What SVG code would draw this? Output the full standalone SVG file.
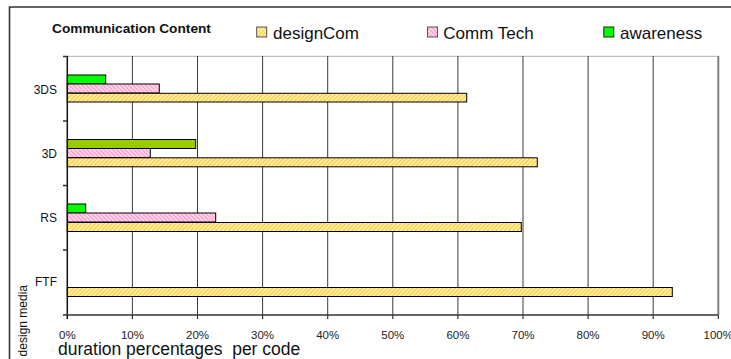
<svg xmlns="http://www.w3.org/2000/svg" width="731" height="359" viewBox="0 0 731 359">
  <style>
    text { font-family: "Liberation Sans", Arial, sans-serif; fill: #111; }
    .title { font-size: 13.7px; font-weight: bold; }
    .legend { font-size: 17px; }
    .cat { font-size: 12px; text-anchor: end; }
    .tick { font-size: 11.5px; text-anchor: middle; fill: #222; }
    .axis-title { font-size: 17.5px; }
    .grid { stroke: #3a3a3a; stroke-width: 1; }
    .bar { stroke: #000; stroke-width: 1; }
    .aware { fill: #00ff00; }
    .aware-3d { fill: #99cc00; }
    .design { fill: url(#hatchYellow); }
    .tech { fill: url(#hatchPink); }
  </style>
  <defs>
    <pattern id="hatchYellow" width="3" height="3" patternUnits="userSpaceOnUse" patternTransform="rotate(45)">
      <rect width="3" height="3" fill="#fff6cc"/>
      <rect width="1.5" height="3" fill="#ffcc33"/>
    </pattern>
    <pattern id="hatchPink" width="3" height="3" patternUnits="userSpaceOnUse" patternTransform="rotate(-45)">
      <rect width="3" height="3" fill="#ffe6f2"/>
      <rect width="1.5" height="3" fill="#ff99cc"/>
    </pattern>
  </defs>

  <rect width="731" height="359" fill="#fff"/>
  <!-- outer chart frame -->
  <path d="M9.5 360 V7 H732" fill="none" stroke="#333" stroke-width="1.6"/>

  <!-- title and legend -->
  <g id="chart-title">
    <text class="title" x="52" y="33.3">Communication Content</text>
  </g>
  <g id="legend-designCom">
    <rect x="256.7" y="27" width="10" height="10" class="design" stroke="#555" stroke-width="1"/>
    <text class="legend" x="273" y="38.5">designCom</text>
  </g>
  <g id="legend-commTech">
    <rect x="427.5" y="27" width="10" height="10" class="tech" stroke="#555" stroke-width="1"/>
    <text class="legend" x="443.3" y="38.5">Comm Tech</text>
  </g>
  <g id="legend-awareness">
    <rect x="603.8" y="27" width="10" height="10" class="aware" stroke="#222" stroke-width="1"/>
    <text class="legend" x="620" y="38.5">awareness</text>
  </g>

  <!-- plot area: gridlines -->
  <g id="gridlines">
    <line x1="67.3" y1="56.3" x2="718.3" y2="56.3" stroke="#b0b0b0" stroke-width="1"/>
    <line class="grid" x1="132.4" y1="56" x2="132.4" y2="315"/>
    <line class="grid" x1="197.5" y1="56" x2="197.5" y2="315"/>
    <line class="grid" x1="262.6" y1="56" x2="262.6" y2="315"/>
    <line class="grid" x1="327.7" y1="56" x2="327.7" y2="315"/>
    <line class="grid" x1="392.8" y1="56" x2="392.8" y2="315"/>
    <line class="grid" x1="457.9" y1="56" x2="457.9" y2="315"/>
    <line class="grid" x1="523" y1="56" x2="523" y2="315"/>
    <line class="grid" x1="588.1" y1="56" x2="588.1" y2="315"/>
    <line class="grid" x1="653.2" y1="56" x2="653.2" y2="315"/>
    <line x1="718.3" y1="56" x2="718.3" y2="315" stroke="#808080" stroke-width="2"/>
  </g>

  <!-- bars -->
  <g id="bars-3DS">
    <rect class="bar aware" x="67.3" y="75" width="38.4" height="9"/>
    <rect class="bar tech" x="67.3" y="84" width="92" height="9"/>
    <rect class="bar design" x="67.3" y="93.3" width="399.4" height="8.7"/>
  </g>
  <g id="bars-3D">
    <rect class="bar aware-3d" x="67.3" y="139.5" width="128.4" height="9"/>
    <rect class="bar tech" x="67.3" y="148.5" width="83" height="9"/>
    <rect class="bar design" x="67.3" y="157.8" width="470" height="9"/>
  </g>
  <g id="bars-RS">
    <rect class="bar aware" x="67.3" y="204" width="18.4" height="9"/>
    <rect class="bar tech" x="67.3" y="213" width="148.4" height="9"/>
    <rect class="bar design" x="67.3" y="222.5" width="454" height="9"/>
  </g>
  <g id="bars-FTF">
    <rect class="bar design" x="67.3" y="287.5" width="605" height="9"/>
  </g>

  <!-- axes -->
  <g id="axes">
    <line x1="67.3" y1="56" x2="67.3" y2="319" stroke="#111" stroke-width="1.5"/>
    <g stroke="#333" stroke-width="1.5">
      <line x1="63" y1="56.5" x2="67.3" y2="56.5"/>
      <line x1="63" y1="121" x2="67.3" y2="121"/>
      <line x1="63" y1="185.5" x2="67.3" y2="185.5"/>
      <line x1="63" y1="250" x2="67.3" y2="250"/>
      <line x1="63" y1="315" x2="718.3" y2="315"/>
    </g>
    <g stroke="#333" stroke-width="1.2">
      <line x1="132.4" y1="315" x2="132.4" y2="319"/>
      <line x1="197.5" y1="315" x2="197.5" y2="319"/>
      <line x1="262.6" y1="315" x2="262.6" y2="319"/>
      <line x1="327.7" y1="315" x2="327.7" y2="319"/>
      <line x1="392.8" y1="315" x2="392.8" y2="319"/>
      <line x1="457.9" y1="315" x2="457.9" y2="319"/>
      <line x1="523" y1="315" x2="523" y2="319"/>
      <line x1="588.1" y1="315" x2="588.1" y2="319"/>
      <line x1="653.2" y1="315" x2="653.2" y2="319"/>
      <line x1="718.3" y1="315" x2="718.3" y2="319"/>
    </g>
  </g>

  <!-- category labels -->
  <g id="category-labels">
    <text class="cat" x="57" y="93.6">3DS</text>
    <text class="cat" x="57" y="157.6">3D</text>
    <text class="cat" x="57" y="221.6">RS</text>
    <text class="cat" x="57" y="286">FTF</text>
  </g>

  <!-- value axis labels -->
  <g id="value-labels">
    <text class="tick" x="67.3" y="338.5">0%</text>
    <text class="tick" x="132.4" y="338.5">10%</text>
    <text class="tick" x="197.5" y="338.5">20%</text>
    <text class="tick" x="262.6" y="338.5">30%</text>
    <text class="tick" x="327.7" y="338.5">40%</text>
    <text class="tick" x="392.8" y="338.5">50%</text>
    <text class="tick" x="457.9" y="338.5">60%</text>
    <text class="tick" x="523" y="338.5">70%</text>
    <text class="tick" x="588.1" y="338.5">80%</text>
    <text class="tick" x="653.2" y="338.5">90%</text>
    <text class="tick" x="718.3" y="338.5">100%</text>
  </g>

  <!-- axis titles -->
  <text class="axis-title" x="58" y="354.5" xml:space="preserve">duration percentages  per code</text>
  <text font-size="12" text-anchor="middle" transform="translate(26.5 320.7) rotate(-90)">design media</text>
</svg>
